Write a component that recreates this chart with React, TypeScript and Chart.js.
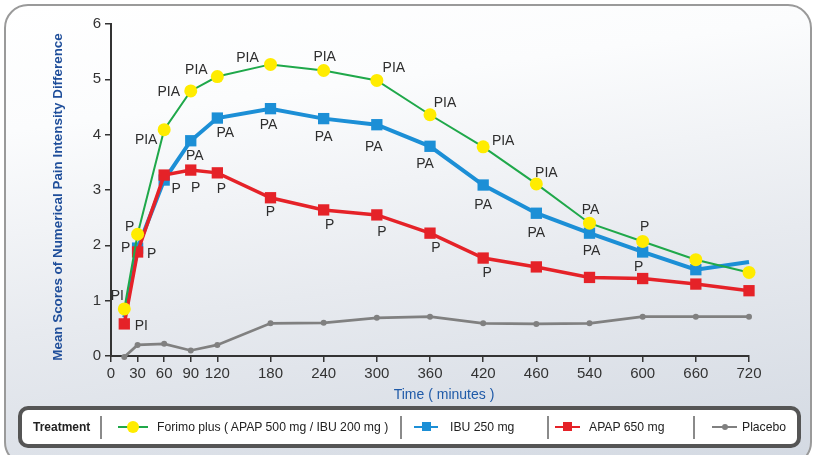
import React, { useEffect, useRef } from "react";
import { Chart, registerables } from "chart.js";

Chart.register(...registerables);

// ---- data ----
const xTickValues = [0, 30, 60, 90, 120, 180, 240, 300, 360, 420, 480, 540, 600, 660, 720];
const xTickLabels = ["0", "30", "60", "90", "120", "180", "240", "300", "360", "420", "460", "540", "600", "660", "720"];
const yTickValues = [0, 1, 2, 3, 4, 5, 6];
const timePoints = [15, 30, 60, 90, 120, 180, 240, 300, 360, 420, 480, 540, 600, 660, 720];

const forimoValues = [0.85, 2.2, 4.09, 4.79, 5.05, 5.27, 5.16, 4.98, 4.36, 3.78, 3.11, 2.4, 2.07, 1.74, 1.51];
const ibuValues = [0.7, 1.95, 3.18, 3.89, 4.3, 4.47, 4.29, 4.18, 3.79, 3.09, 2.58, 2.22, 1.88, 1.56, 1.7];
const apapValues = [0.58, 1.88, 3.27, 3.36, 3.31, 2.86, 2.64, 2.55, 2.22, 1.77, 1.61, 1.42, 1.4, 1.3, 1.18];
const placeboValues = [-0.02, 0.2, 0.22, 0.1, 0.2, 0.59, 0.6, 0.69, 0.71, 0.59, 0.58, 0.59, 0.71, 0.71, 0.71];

const forimoLabels = ["PI", "P", "PIA", "PIA", "PIA", "PIA", "PIA", "PIA", "PIA", "PIA", "PIA", "PA", "P", "", ""];
const ibuLabels = ["", "P", "P", "PA", "PA", "PA", "PA", "PA", "PA", "PA", "PA", "PA", "P", "", ""];
const apapLabels = ["PI", "P", "", "P", "P", "P", "P", "P", "P", "P", "", "", "", "", ""];

const seriesNames = [
  "Forimo plus ( APAP 500 mg / IBU 200 mg )",
  "IBU 250 mg",
  "APAP 650 mg",
  "Placebo",
];
const xTitle = "Time ( minutes )";
const yTitle = "Mean Scores of Numerical Pain Intensity Difference";

// ---- label placement (pixel offsets from the point) ----
const forimoOffsets = [[-7, -14], [-8, -8], [-18, 9], [-22, 0], [-21, -7], [-23, -7], [1, -14], [17, -13], [15, -13], [20, -7], [10, -12], [1, -14], [2, -15], [0, 0], [0, 0]];
const ibuOffsets = [[0, 0], [-12, -1], [12, 8], [4, 14], [8, 14], [-2, 15], [0, 18], [-3, 21], [-5, 17], [0, 19], [0, 19], [2, 17], [-4, 14], [0, 0], [0, 0]];
const apapOffsets = [[17, 1], [14, 1], [0, 0], [5, 17], [4, 15], [0, 13], [6, 14], [5, 16], [6, 14], [4, 14], [0, 0], [0, 0], [0, 0], [0, 0], [0, 0]];

const FONT = '"Liberation Sans", Arial, Helvetica, sans-serif';

const labelSets = [
  { datasetIndex: 0, texts: forimoLabels, offsets: forimoOffsets },
  { datasetIndex: 1, texts: ibuLabels, offsets: ibuOffsets },
  { datasetIndex: 2, texts: apapLabels, offsets: apapOffsets },
];

const pointLabelPlugin = {
  id: "pointLabels",
  afterDatasetsDraw(chart: any) {
    const ctx = chart.ctx;
    ctx.save();
    ctx.font = `14px ${FONT}`;
    ctx.fillStyle = "#2e2e2e";
    ctx.textAlign = "center";
    ctx.textBaseline = "middle";
    labelSets.forEach(({ datasetIndex, texts, offsets }) => {
      const meta = chart.getDatasetMeta(datasetIndex);
      texts.forEach((t, i) => {
        if (!t) return;
        const el = meta.data[i];
        if (!el) return;
        ctx.fillText(t, el.x + offsets[i][0], el.y + offsets[i][1] + 1);
      });
    });
    ctx.restore();
  },
};

const axisTitlePlugin = {
  id: "axisTitles",
  afterDraw(chart: any) {
    const ctx = chart.ctx;
    ctx.save();
    ctx.textAlign = "center";
    ctx.textBaseline = "middle";
    ctx.fillStyle = "#1f5aa8";
    ctx.font = `14px ${FONT}`;
    ctx.fillText(xTitle, 444, 395);
    ctx.translate(58, 197);
    ctx.rotate(-Math.PI / 2);
    ctx.fillStyle = "#1f4e9a";
    ctx.font = `bold 13.4px ${FONT}`;
    ctx.fillText(yTitle, 0, 0);
    ctx.restore();
  },
};

const toPoints = (vals: number[]) => timePoints.map((t, i) => ({ x: t, y: vals[i] }));

export default function App() {
  const canvasRef = useRef<HTMLCanvasElement | null>(null);

  useEffect(() => {
    const canvas = canvasRef.current;
    if (!canvas) return;
    const lastIdx = timePoints.length - 1;
    const chart = new Chart(canvas, {
      type: "line",
      data: {
        datasets: [
          {
            label: seriesNames[0],
            data: toPoints(forimoValues),
            borderColor: "#1fa84a",
            borderWidth: 2,
            pointBackgroundColor: "#ffec00",
            pointBorderWidth: 0,
            pointRadius: 6.5,
            pointStyle: "circle",
            order: 0,
            clip: false,
            tension: 0,
          },
          {
            label: seriesNames[1],
            data: toPoints(ibuValues),
            borderColor: "#1c8fd6",
            borderWidth: 4,
            pointBackgroundColor: "#1c8fd6",
            pointBorderWidth: 0,
            pointRadius: (c: any) => (c.dataIndex === lastIdx || c.dataIndex === 0 ? 0 : 8),
            pointStyle: "rect",
            order: 2,
            clip: false,
            tension: 0,
          },
          {
            label: seriesNames[2],
            data: toPoints(apapValues),
            borderColor: "#e52228",
            borderWidth: 3.5,
            pointBackgroundColor: "#e52228",
            pointBorderWidth: 0,
            pointRadius: 8,
            pointStyle: "rect",
            order: 1,
            clip: false,
            tension: 0,
          },
          {
            label: seriesNames[3],
            data: toPoints(placeboValues),
            borderColor: "#808080",
            borderWidth: 2.7,
            pointBackgroundColor: "#808080",
            pointBorderWidth: 0,
            pointRadius: 3,
            pointStyle: "circle",
            order: 3,
            clip: false,
            tension: 0,
          },
        ],
      },
      options: {
        animation: false,
        responsive: false,
        events: [],
        layout: { padding: { left: 46, top: 24, right: 64, bottom: 0 } },
        plugins: { legend: { display: false }, tooltip: { enabled: false } },
        scales: {
          x: {
            type: "linear",
            min: 0,
            max: 720,
            afterBuildTicks: (s: any) => {
              s.ticks = xTickValues.map((v) => ({ value: v }));
            },
            afterFit: (s: any) => {
              s.height = 52;
            },
            ticks: {
              autoSkip: false,
              maxRotation: 0,
              padding: 3,
              color: "#333",
              font: { family: FONT, size: 15 },
              callback: (v: any) => {
                const i = xTickValues.indexOf(Number(v));
                return i >= 0 ? xTickLabels[i] : "";
              },
            },
            grid: { drawOnChartArea: false, drawTicks: true, tickLength: 6, color: "#333", lineWidth: 1.5 },
            border: { display: true, color: "#333", width: 2 },
            title: { display: false },
          },
          y: {
            type: "linear",
            min: 0,
            max: 6,
            afterBuildTicks: (s: any) => {
              s.ticks = yTickValues.map((v) => ({ value: v }));
            },
            afterFit: (s: any) => {
              s.width = 111 - 46;
            },
            ticks: {
              padding: 4,
              color: "#333",
              font: { family: FONT, size: 15 },
            },
            grid: { drawOnChartArea: false, drawTicks: true, tickLength: 6, color: "#333", lineWidth: 1.5 },
            border: { display: true, color: "#333", width: 2 },
            title: { display: false },
          },
        },
      },
      plugins: [pointLabelPlugin, axisTitlePlugin],
    } as any);
    return () => chart.destroy();
  }, []);

  const textStyle: React.CSSProperties = {
    position: "absolute",
    top: 0,
    height: 34,
    lineHeight: "34px",
    fontFamily: FONT,
    fontSize: 12.2,
    color: "#222",
    whiteSpace: "nowrap",
  };
  const divider = (left: number) => (
    <div style={{ position: "absolute", left, top: 6, width: 2, height: 23, background: "#8a8a8a" }} />
  );
  const symbol = (left: number, width: number, lineColor: string, marker: React.ReactNode) => (
    <div style={{ position: "absolute", left, top: 0, width, height: 34 }}>
      <div style={{ position: "absolute", left: 0, top: 16, width, height: 2, background: lineColor }} />
      {marker}
    </div>
  );

  return (
    <div
      style={{
        position: "fixed",
        left: 0,
        top: 0,
        width: 813,
        height: 455,
        overflow: "hidden",
        background: "#ffffff",
      }}
    >
      <div
        style={{
          position: "absolute",
          left: 4,
          top: 4,
          width: 808,
          height: 462,
          boxSizing: "border-box",
          border: "2px solid #9a9a9a",
          borderRadius: 24,
          background: "linear-gradient(172deg, #ffffff 0%, #fbfcfd 22%, #e7eaef 58%, #d3d9e2 100%)",
        }}
      />
      <canvas
        ref={canvasRef}
        width={813}
        height={408}
        style={{ position: "absolute", left: 0, top: 0, width: 813, height: 408 }}
      />
      <div
        style={{
          position: "absolute",
          left: 18,
          top: 406,
          width: 783,
          height: 42,
          boxSizing: "border-box",
          border: "4px solid #555",
          borderRadius: 10,
          background: "#ffffff",
        }}
      >
        <div style={{ ...textStyle, left: 11, fontSize: 12, fontWeight: "bold" }}>Treatment</div>
        {divider(78)}
        {symbol(
          96,
          30,
          "#1fa84a",
          <div style={{ position: "absolute", left: 9, top: 11, width: 12, height: 12, borderRadius: 6, background: "#ffec00" }} />
        )}
        <div style={{ ...textStyle, left: 135 }}>{seriesNames[0]}</div>
        {divider(378)}
        {symbol(
          392,
          24,
          "#1c8fd6",
          <div style={{ position: "absolute", left: 8, top: 12, width: 9, height: 9, background: "#1c8fd6" }} />
        )}
        <div style={{ ...textStyle, left: 428 }}>{seriesNames[1]}</div>
        {divider(525)}
        {symbol(
          533,
          25,
          "#e52228",
          <div style={{ position: "absolute", left: 8, top: 12, width: 9, height: 9, background: "#e52228" }} />
        )}
        <div style={{ ...textStyle, left: 567 }}>{seriesNames[2]}</div>
        {divider(671)}
        {symbol(
          690,
          25,
          "#808080",
          <div style={{ position: "absolute", left: 10, top: 14, width: 6, height: 6, borderRadius: 3, background: "#808080" }} />
        )}
        <div style={{ ...textStyle, left: 720 }}>{seriesNames[3]}</div>
      </div>
    </div>
  );
}
